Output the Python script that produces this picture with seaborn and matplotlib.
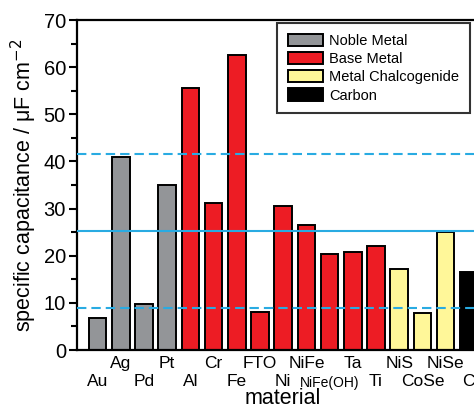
import matplotlib
matplotlib.use("Agg")
import matplotlib.pyplot as plt
import seaborn as sns
import pandas as pd
import numpy as np
from matplotlib.patches import Patch
from matplotlib.ticker import MultipleLocator

materials = ["Au", "Ag", "Pd", "Pt", "Al", "Cr", "Fe", "FTO", "Ni", "NiFe",
             "NiFe(OH)", "Ta", "Ti", "NiS", "CoSe", "NiSe", "C"]
capacitance = [6.7, 41.0, 9.8, 35.1, 55.6, 31.2, 62.6, 8.1, 30.6, 26.5,
               20.3, 20.7, 22.0, 17.1, 7.9, 25.0, 16.6]
groups = ["Noble Metal"] * 4 + ["Base Metal"] * 9 + ["Metal Chalcogenide"] * 3 + ["Carbon"]
group_order = ["Noble Metal", "Base Metal", "Metal Chalcogenide", "Carbon"]
group_colors = ["#939598", "#ED1C24", "#FFF799", "#000000"]
mean_line = 25.3
band_lines = [41.6, 9.0]

sns.set_style("ticks")
plt.rcParams["font.family"] = ["Liberation Sans", "DejaVu Sans"]
for k in ["text.color", "axes.labelcolor", "xtick.color", "ytick.color", "axes.edgecolor"]:
    plt.rcParams[k] = "black"

df = pd.DataFrame({"material": materials, "cap": capacitance, "group": groups})
palette = dict(zip(group_order, group_colors))

fig = plt.figure(figsize=(4.74, 4.07), dpi=100)
ax = fig.add_axes([77 / 474, 1 - 350 / 407, 412.5 / 474, 330 / 407])

sns.barplot(data=df, x="material", y="cap", hue="group", order=materials,
            hue_order=group_order, palette=palette, dodge=False, width=0.76,
            edgecolor="black", linewidth=1.4, saturation=1, legend=False, ax=ax)

ax.axhline(mean_line, color="#29ABE2", lw=1.5, zorder=5)
for v in band_lines:
    ax.axhline(v, color="#29ABE2", lw=1.5, ls=(0, (4.5, 2.4)), zorder=5)

ax.set_xlim(-0.89, len(materials) - 1 + 0.89)
ax.set_ylim(0, 70)
ax.yaxis.set_major_locator(MultipleLocator(10))
ax.yaxis.set_minor_locator(MultipleLocator(5))

pos = np.arange(len(materials))
ax.set_xticks(pos[0::2], labels=materials[0::2])
ax.set_xticks(pos[1::2], labels=materials[1::2], minor=True)
ax.tick_params(axis="x", which="both", length=0, labelsize=12.5, labelcolor="black")
ax.tick_params(axis="x", which="minor", pad=4)
ax.tick_params(axis="x", which="major", pad=17)
for lab in ax.get_xticklabels():
    if lab.get_text() == "NiFe(OH)":
        lab.set_fontsize(10)
        lab.set_y(-0.006)
ax.tick_params(axis="y", which="major", length=6, width=1.5, labelsize=14.5, pad=2,
               direction="out", labelcolor="black")
ax.tick_params(axis="y", which="minor", length=4, width=1.5, direction="out")

for s in ["left", "bottom", "top", "right"]:
    ax.spines[s].set_linewidth(1.6)
    ax.spines[s].set_color("black")

ax.set_ylabel("specific capacitance / μF cm$^{-2}$", fontsize=15.5, labelpad=3, color="black")
ax.set_xlabel("material", fontsize=15.5, labelpad=-1, color="black")

handles = [Patch(facecolor=c, edgecolor="black", linewidth=1.4) for c in group_colors]
leg = ax.legend(handles, group_order, loc="upper left",
                bbox_to_anchor=(277 / 474, 1 - 23 / 407), bbox_transform=fig.transFigure,
                borderaxespad=0, fontsize=10.5, handlelength=2.4, handleheight=0.9,
                handletextpad=0.4, labelspacing=0.28, borderpad=0.75, frameon=True,
                fancybox=False)
leg.get_frame().set_edgecolor("black")
leg.get_frame().set_linewidth(1.5)
leg.set_zorder(10)
for t in leg.get_texts():
    t.set_color("black")

fig.savefig("out.png", dpi=100)
